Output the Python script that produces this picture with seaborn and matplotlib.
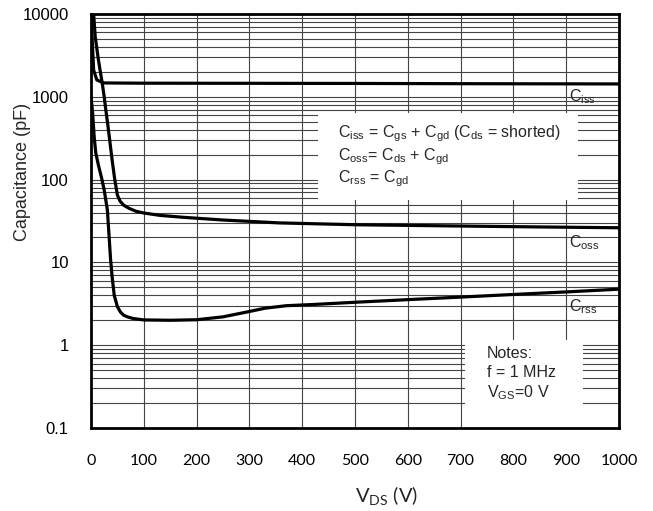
import numpy as np
import pandas as pd
import matplotlib
matplotlib.use('Agg')
import matplotlib.pyplot as plt
import matplotlib.ticker as mticker
from matplotlib.patches import Rectangle
import seaborn as sns

# --- data (V in volts, C in pF) ---
v_ciss = [0, 2, 5, 11, 24, 100, 300, 500, 700, 1000]
c_ciss = [10000, 5300, 2100, 1600, 1470, 1460, 1455, 1450, 1440, 1430]

v_coss = [0, 5, 8, 14, 18, 21, 25, 28, 32, 36, 40, 45, 50, 55, 62, 72, 85, 100,
          130, 176, 250, 356, 500, 700, 850, 1000]
c_coss = [15000, 10000, 5300, 2800, 1950, 1500, 1000, 700, 450, 280, 172, 100, 65,
          55, 49, 45, 41.5, 39.5, 37, 35, 32.5, 30, 28.5, 27.5, 26.8, 26.2]

v_crss = [0, 3, 6, 9, 14, 20, 25, 31, 34, 37, 40, 44, 50, 56, 62, 69, 80, 100,
          150, 200, 250, 293, 330, 370, 420, 500, 600, 700, 800, 900, 1000]
c_crss = [1000, 650, 330, 210, 150, 105, 75, 43, 22, 11, 6.7, 4.0, 2.92, 2.5, 2.3,
          2.2, 2.1, 2.02, 2.0, 2.03, 2.2, 2.5, 2.8, 3.0, 3.1, 3.3, 3.55, 3.81, 4.1,
          4.4, 4.75]

x_ticks = [0, 100, 200, 300, 400, 500, 600, 700, 800, 900, 1000]
y_ticks = [0.1, 1, 10, 100, 1000, 10000]
y_ticklabels = ['0.1', '1', '10', '100', '1000', '10000']

curves = pd.concat([
    pd.DataFrame({'V': v_ciss, 'C': c_ciss, 'name': 'Ciss'}),
    pd.DataFrame({'V': v_coss, 'C': c_coss, 'name': 'Coss'}),
    pd.DataFrame({'V': v_crss, 'C': c_crss, 'name': 'Crss'}),
], ignore_index=True)

sns.set_theme(style='white')
plt.rcParams['font.family'] = ['Liberation Sans', 'DejaVu Sans']
plt.rcParams['mathtext.default'] = 'regular'

fig = plt.figure(figsize=(6.53, 5.11), dpi=100)
ax = fig.add_axes([91 / 653, 83 / 511, 528 / 653, 414 / 511])

ax.set_yscale('log')
ax.set_xlim(0, 1000)
ax.set_ylim(0.1, 10000)

# grid first, so the lines and the white boxes sit on top
grid_kw = dict(color='#444444', lw=0.8, zorder=0)
for xv in x_ticks[1:-1]:
    ax.axvline(xv, **grid_kw)
for dec in [0.1, 1, 10, 100, 1000]:
    for k in range(1, 10):
        if k == 1 and dec == 0.1:
            continue
        ax.axhline(dec * k, **grid_kw)

# white boxes behind the notes
ax.add_patch(Rectangle((0.430, 0.551), 0.492, 0.210, transform=ax.transAxes,
                       facecolor='white', edgecolor='none', zorder=1))
ax.add_patch(Rectangle((0.708, 0.0), 0.224, 0.213, transform=ax.transAxes,
                       facecolor='white', edgecolor='none', zorder=1))

sns.lineplot(data=curves, x='V', y='C', units='name', estimator=None,
             color='black', lw=2.3, ax=ax, zorder=3, sort=False)

ax.set_xticks(x_ticks)
ax.set_xticklabels([str(t) for t in x_ticks], fontfamily='Lato', fontsize=11.5)
ax.set_yticks(y_ticks)
ax.set_yticklabels(y_ticklabels, fontsize=12)
ax.yaxis.set_minor_locator(mticker.NullLocator())
ax.tick_params(axis='x', direction='in', length=4, width=1.2, pad=19, colors='black')
ax.tick_params(axis='y', direction='in', length=5, width=1.5, pad=16, colors='black')
ax.set_xlabel('')
ax.set_ylabel('')

for side in ['left', 'right', 'top', 'bottom']:
    ax.spines[side].set_visible(True)
    ax.spines[side].set_color('black')
    ax.spines[side].set_linewidth(2.0)
    ax.spines[side].set_zorder(5)

# axis titles
ax.text(-0.129, 0.618, 'Capacitance (pF)', transform=ax.transAxes, rotation=90,
        ha='center', va='center', fontsize=13)
fig.text(355 / 653, 9 / 511, r'V$_{DS}$ (V)', ha='left', va='baseline',
         fontfamily='Lato', fontsize=14.5)

# curve labels
lab_kw = dict(transform=ax.transAxes, ha='left', va='baseline', fontsize=11.5, zorder=6)
ax.text(0.905, 0.790, r'C$_{iss}$', **lab_kw)
ax.text(0.905, 0.437, r'C$_{oss}$', **lab_kw)
ax.text(0.905, 0.283, r'C$_{rss}$', **lab_kw)

# definitions box
ax.text(0.468, 0.703, r'C$_{iss}$ = C$_{gs}$ + C$_{gd}$ (C$_{ds}$ = shorted)', **lab_kw)
ax.text(0.468, 0.647, r'C$_{oss}$= C$_{ds}$ + C$_{gd}$', **lab_kw)
ax.text(0.468, 0.594, r'C$_{rss}$ = C$_{gd}$', **lab_kw)

# notes box
ax.text(0.750, 0.169, 'Notes:', **lab_kw)
ax.text(0.750, 0.123, 'f = 1 MHz', **lab_kw)
ax.text(0.750, 0.075, r'V$_{GS}$=0 V', **lab_kw)

fig.savefig('out.png', dpi=100)
